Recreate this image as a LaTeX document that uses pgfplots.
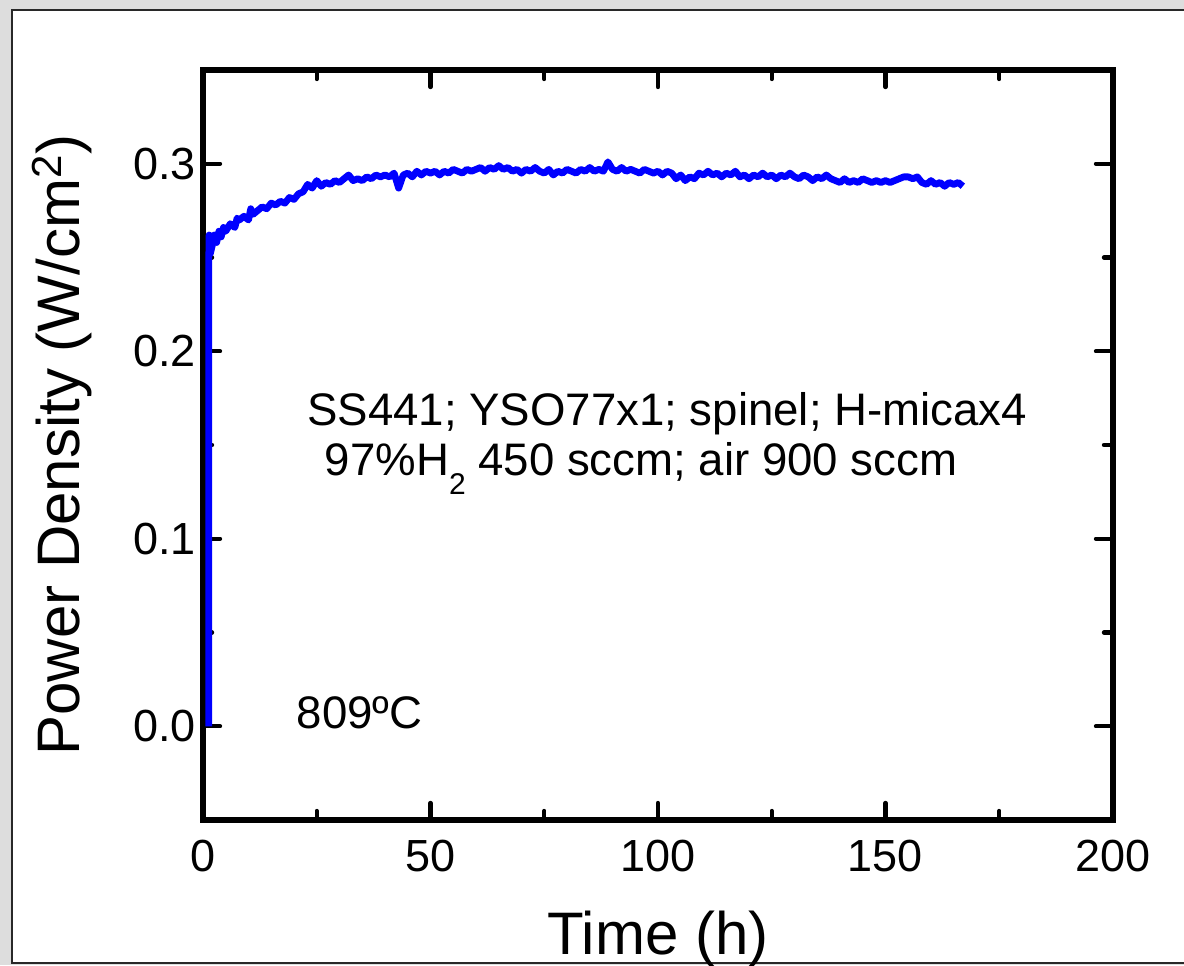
\documentclass[border=0pt]{standalone}
\usepackage{pgfplots}
\pgfplotsset{compat=1.18}
\usepackage{fontspec}
\setmainfont{Liberation Sans}
\definecolor{graybg}{RGB}{221,221,221}
\definecolor{panelborder}{RGB}{40,40,40}
\begin{document}
\begin{tikzpicture}[x=1pt,y=1pt]
\fill[graybg] (-101.5,-72.5) rectangle (490.5,410);
\useasboundingbox (-101.5,-72.5) rectangle (490.5,410);
\clip (-101.5,-72.5) rectangle (490.5,410);
\fill[white] (-95.5,-71.5) rectangle (495,405);
\draw[line width=0.8pt, panelborder] (495,405) -- (-95.5,405) -- (-95.5,-71.5) -- (495,-71.5);
\begin{axis}[
  scale only axis, width=455pt, height=375pt,
  xmin=0, xmax=200, ymin=-0.05, ymax=0.35,
  xtick={0,50,100,150,200}, ytick={0,0.1,0.2,0.3},
  minor x tick num=1, minor y tick num=1,
  tick align=inside, major tick length=8.5pt, minor tick length=4.5pt,
  every tick/.style={line width=2.2pt, black, line cap=round},
  axis line style={line width=2.6pt},
  /pgf/number format/assume math mode=true,
  yticklabel style={/pgf/number format/.cd, fixed, fixed zerofill, precision=1},
  tick label style={font=\fontsize{22.5}{27}\selectfont},
  xticklabel style={yshift=-6.5pt},
  label style={font=\fontsize{30}{36}\selectfont},
  xlabel={Time (h)},
  ylabel={Power Density (W/cm\textsuperscript{2})},
  xlabel style={at={(axis description cs:0.5,-0.1790)}, anchor=base},
  ylabel style={at={(axis description cs:-0.1352,0.5)}, anchor=base},
]
\addplot[blue, line width=3.4pt, line join=round, line cap=butt] table {
t v
1.25 0.000
1.25 0.245
1.35 0.262
1.6 0.252
2 0.256
2.5 0.262
3 0.258
3.5 0.264
4 0.261
4.5 0.266
5 0.264
6 0.268
7 0.266
7.5 0.271
8 0.270
9 0.272
10 0.270
10.5 0.276
11 0.273
12 0.275
13 0.277
14 0.276
15 0.279
16 0.278
17 0.280
18 0.279
19 0.282
20 0.281
21 0.284
22 0.285
23 0.289
24 0.287
25 0.291
26 0.288
27 0.290
28 0.289
29 0.291
30 0.290
31 0.292
32 0.294
33 0.291
34 0.292
35 0.291
36 0.293
37 0.292
38 0.294
39 0.293
40 0.294
41 0.293
42 0.295
43 0.287
44 0.294
45 0.295
46 0.293
47 0.296
48 0.294
49 0.296
50 0.295
51 0.296
52 0.294
53 0.296
54 0.295
55 0.297
56 0.296
57 0.295
58 0.297
59 0.296
60 0.297
61 0.298
62 0.296
63 0.298
64 0.297
65 0.299
66 0.297
67 0.298
68 0.296
69 0.297
70 0.295
71 0.297
72 0.296
73 0.298
74 0.296
75 0.295
76 0.297
77 0.294
78 0.296
79 0.295
80 0.297
81 0.296
82 0.295
83 0.297
84 0.296
85 0.298
86 0.296
87 0.297
88 0.296
89 0.301
90 0.297
91 0.296
92 0.298
93 0.296
94 0.297
95 0.296
96 0.295
97 0.297
98 0.296
99 0.295
100 0.296
101 0.294
102 0.296
103 0.295
104 0.292
105 0.294
106 0.291
107 0.293
108 0.292
109 0.295
110 0.294
111 0.296
112 0.294
113 0.295
114 0.293
115 0.295
116 0.294
117 0.296
118 0.293
119 0.294
120 0.292
121 0.294
122 0.293
123 0.295
124 0.293
125 0.294
126 0.292
127 0.294
128 0.293
129 0.295
130 0.293
131 0.292
132 0.294
133 0.293
134 0.291
135 0.293
136 0.292
137 0.294
138 0.292
139 0.291
140 0.290
141 0.292
142 0.290
143 0.291
144 0.290
145 0.292
146 0.291
147 0.290
148 0.291
149 0.290
150 0.291
151 0.290
152 0.291
153 0.292
154 0.293
155 0.293
156 0.292
157 0.293
158 0.290
159 0.289
160 0.291
161 0.289
162 0.290
163 0.288
164 0.290
165 0.289
166 0.290
167 0.288
};
\node[anchor=base, inner sep=0pt, font=\fontsize{22.8}{27}\selectfont] at (axis cs:102,0.1606) {SS441; YSO77x1; spinel; H-micax4};
\node[anchor=base, inner sep=0pt, font=\fontsize{22.8}{27}\selectfont] at (axis cs:96.3,0.1335) {97\%H\raisebox{-0.4em}{\fontsize{15}{15}\selectfont 2} 450 sccm; air 900 sccm};
\node[anchor=base west, inner sep=0pt, font=\fontsize{22.8}{27}\selectfont] at (axis cs:20.5,-0.001) {809ºC};
\end{axis}
\end{tikzpicture}
\end{document}
